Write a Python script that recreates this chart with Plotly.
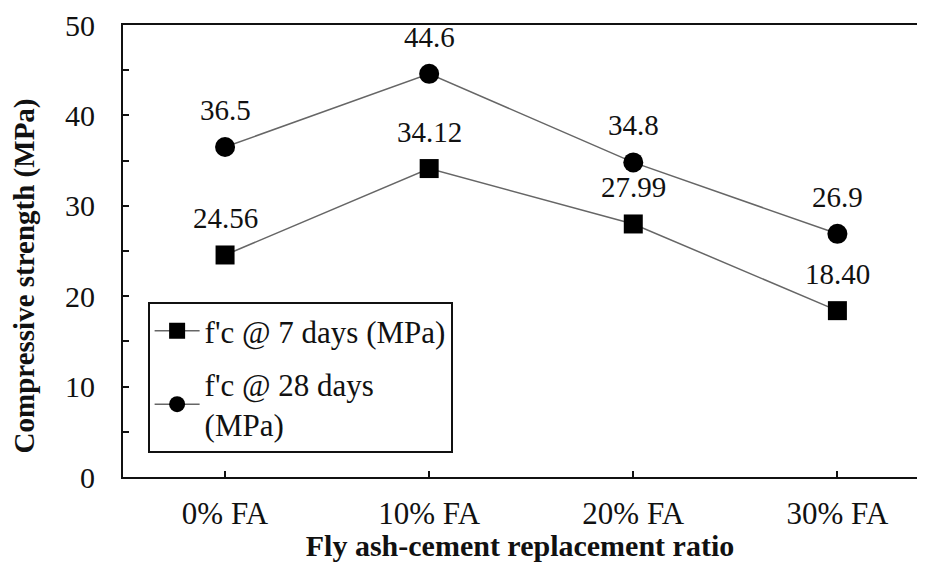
import plotly.graph_objects as go

categories = ["0% FA", "10% FA", "20% FA", "30% FA"]
fc_7_days = [24.56, 34.12, 27.99, 18.40]
fc_28_days = [36.5, 44.6, 34.8, 26.9]
labels_7 = ["24.56", "34.12", "27.99", "18.40"]
labels_28 = ["36.5", "44.6", "34.8", "26.9"]
y_ticks = [0, 10, 20, 30, 40, 50]

FONT = "Liberation Serif"
x_idx = list(range(len(categories)))

fig = go.Figure()
fig.add_trace(go.Scatter(
    x=x_idx, y=fc_7_days, mode="lines+markers",
    name="f'c @ 7 days (MPa)", legendgroup="a",
    line=dict(color="#666666", width=1.5),
    marker=dict(symbol="square", size=19, color="black"),
))
fig.add_trace(go.Scatter(
    x=x_idx, y=fc_28_days, mode="lines+markers",
    name="f'c @ 28 days<br>(MPa)", legendgroup="b",
    line=dict(color="#666666", width=1.5),
    marker=dict(symbol="circle", size=20, color="black"),
))

for xs, ys, ts in [(x_idx, fc_7_days, labels_7), (x_idx, fc_28_days, labels_28)]:
    for xv, yv, tv in zip(xs, ys, ts):
        fig.add_annotation(x=xv, y=yv, text=tv, showarrow=False, yshift=37,
                           font=dict(family=FONT, size=29, color="#111"))

# y-axis title as annotation (sits slightly below the axis centre in the reference)
fig.add_annotation(xref="paper", yref="paper", x=-0.124, y=0.445,
                   text="<b>Compressive strength (MPa)</b>", textangle=-90,
                   showarrow=False, xanchor="center", yanchor="middle",
                   font=dict(family=FONT, size=29, color="#111"))

fig.update_layout(
    width=909, height=554,
    margin=dict(l=115, r=0, t=14, b=84),
    paper_bgcolor="white", plot_bgcolor="white",
    font=dict(family=FONT, size=29, color="#111"),
    showlegend=True,
    legend=dict(
        x=0.031, y=0.053, xanchor="left", yanchor="bottom",
        bgcolor="white", bordercolor="#111", borderwidth=2,
        font=dict(family=FONT, size=31, color="#111"),
        tracegroupgap=10, itemwidth=45,
    ),
    xaxis=dict(
        range=[-0.5, 3.39], tickmode="array", tickvals=x_idx, ticktext=categories,
        showline=True, linecolor="#111", linewidth=2, mirror=True,
        ticks="inside", ticklen=6, tickwidth=2, tickcolor="#111",
        showgrid=False, zeroline=False, ticklabelstandoff=8,
        tickfont=dict(family=FONT, size=31, color="#111"),
        title=dict(text="<b>Fly ash-cement replacement ratio</b>",
                   font=dict(family=FONT, size=30, color="#111"), standoff=10),
    ),
    yaxis=dict(
        range=[0, 50], tickmode="array", tickvals=y_ticks,
        showline=True, linecolor="#111", linewidth=2,
        ticks="inside", ticklen=6, tickwidth=2, tickcolor="#111",
        minor=dict(ticks="inside", ticklen=6, tickwidth=2, tickcolor="#111", dtick=5),
        showgrid=False, zeroline=False, ticklabelstandoff=20,
        ticklabeloverflow="allow",
        tickfont=dict(family=FONT, size=30, color="#111"),
    ),
)

fig.write_html("out.html")
